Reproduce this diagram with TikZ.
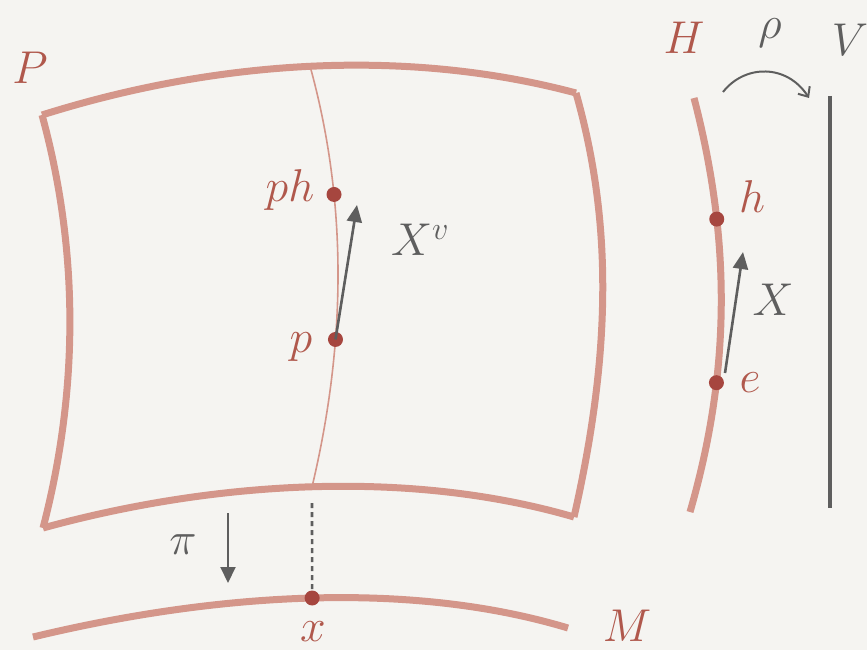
\RequirePackage{fix-cm}
\documentclass[tikz,border=0pt]{standalone}
\usetikzlibrary{arrows.meta}
\definecolor{bg}{HTML}{F5F4F1}
\definecolor{fib}{HTML}{D4968A}
\definecolor{dotc}{HTML}{A6463F}
\definecolor{lab}{HTML}{B0584C}
\definecolor{gr}{HTML}{5E5E5E}
\begin{document}
\begin{tikzpicture}[x=1pt,y=-1pt,
  thickfib/.style={draw=fib,line width=7pt},
  thinfib/.style={draw=fib,line width=1.6pt},
  pt/.style={circle,fill=dotc,inner sep=0pt,minimum size=15pt},
  rlab/.style={text=lab,font=\fontsize{46}{50}\selectfont,inner sep=0pt},
  glab/.style={text=gr,font=\fontsize{46}{50}\selectfont,inner sep=0pt},
  vec/.style={draw=gr,line width=2.6pt,-{Triangle[length=17pt,width=15pt]}},
]
\fill[bg] (0,0) rectangle (867,650);
\useasboundingbox (0,0) rectangle (867,650);

% bundle P
\coordinate (tl) at (42,115);
\coordinate (tr) at (576,93);
\coordinate (bl) at (43,528);
\coordinate (br) at (574,517);
\draw[thickfib] (tl) .. controls (210,62) and (400,46) .. (tr);
\draw[thickfib] (bl) .. controls (210,482) and (406,468) .. (br);
\draw[thickfib] (tl) .. controls (79,250) and (79,390) .. (bl);
\draw[thickfib] (tr) .. controls (612,220) and (612,350) .. (br);

% fibre
\draw[thinfib] (310,66) .. controls (347,200) and (347,340) .. (312,487)
  coordinate[pos=0.315] (phc) coordinate[pos=0.66] (pc);
\node[pt] (ph) at (phc) {};
\node[pt] (p) at (pc) {};
\node[rlab] (phl) at (290,190) {$ph$};
\node[rlab] (pl) at (301,347) {$p$};
\coordinate (xvtip) at (357,205);
\draw[vec] (p.center) -- (xvtip);
\node[glab] (xvl) at (420,240) {$X^v$};

% base M
\draw[thickfib] (33,637) .. controls (220,592) and (412,581) .. (568,628)
  coordinate[pos=0.5] (xc);
\node[pt] (x) at (xc) {};
\node[rlab] (xl) at (313,632) {$x$};
\node[rlab] (Ml) at (627,626) {$M$};
\coordinate (dtop) at (312,503);
\draw[gr,line width=2.6pt,dash pattern=on 5pt off 4pt] (dtop) -- (x.north);
\coordinate (pitop) at (228,513);
\coordinate (pitip) at (228,583);
\draw[draw=gr,line width=2pt,-{Triangle[length=16pt,width=15pt]}] (pitop) -- (pitip);
\node[glab] (pil) at (183,545) {$\pi$};
\node[rlab] (Pl) at (30,68) {$P$};

% group H
\draw[thickfib] (694,98) .. controls (731,240) and (731,370) .. (690,512)
  coordinate[pos=0.29] (hc) coordinate[pos=0.69] (ec);
\node[pt] (h) at (hc) {};
\node[pt] (e) at (ec) {};
\node[rlab] (hl) at (752,197) {$h$};
\node[rlab] (el) at (750,383) {$e$};
\coordinate (xstart) at (725,373);
\coordinate (xtip) at (743,252);
\draw[vec] (xstart) -- (xtip);
\node[glab] (Xl) at (773,300) {$X$};
\node[rlab] (Hl) at (684,38) {$H$};

% V
\coordinate (vtop) at (830,96);
\coordinate (vbot) at (830,508);
\draw[gr,line width=4.5pt] (vtop) -- (vbot);
\node[glab] (Vl) at (850,40) {$V$};
\node[glab] (rhol) at (770,33) {$\rho$};
\coordinate (rs) at (723,92);
\coordinate (re) at (809,98);
\draw[gr,line width=2pt,-{Straight Barb[length=8pt,width=14pt]}] (rs) .. controls (745,64) and (787,64) .. (re);
\end{tikzpicture}
\end{document}
